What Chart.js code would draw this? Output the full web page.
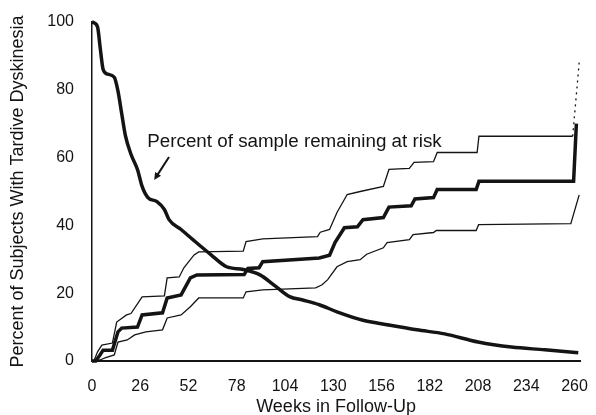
<!DOCTYPE html>
<html>
<head>
<meta charset="utf-8">
<script src="https://cdn.jsdelivr.net/npm/chart.js@4.4.0/dist/chart.umd.min.js"></script>
<style>
html, body { margin: 0; padding: 0; background: #fff; }
#wrap { width: 596px; height: 415px; }
</style>
</head>
<body>
<div id="wrap"><canvas id="tdchart" width="596" height="415"></canvas></div>
<script>
var ink = '#141414';
var fontFamily = '"Liberation Sans", Arial, Helvetica, sans-serif';

var weekTicks = [0, 26, 52, 78, 104, 130, 156, 182, 208, 234, 260];
var pctTicks = [0, 20, 40, 60, 80, 100];

// percent of sample remaining at risk
var riskWeeks = [0, 1, 3, 4.5, 6, 8.5, 12, 14, 16, 18, 21, 24.5, 27, 30, 35, 39, 41.5, 48, 55, 64,
    72.5, 81.5, 90.5, 99, 106.5, 113.5, 122.5, 132, 146, 159, 175, 190, 208, 226, 244, 262];
var riskPct = [100, 99.8, 98.5, 92, 86, 84.6, 83.7, 79.6, 73, 66.5, 61, 56.5, 51.5, 48.3, 47, 44.7, 41.7, 38.8, 35.5, 31.4,
    27.8, 27, 25.4, 22, 19, 18, 16.6, 14.5, 12, 10.7, 9.2, 8, 5.6, 4.1, 3.3, 2.4];

// cumulative tardive dyskinesia
var tdWeeks = [0, 2, 4.3, 6, 11, 14, 16, 24.5, 27, 38, 40.5, 48, 53, 56.5, 82, 84, 90, 92, 122.5, 128,
    131, 136, 143, 146, 157, 160, 172, 174, 184, 186, 207, 208.5, 259.5, 261];
var tdPct = [0, 0, 1.8, 3.2, 3.2, 8.6, 9.7, 10, 13.6, 14.2, 18.6, 19.5, 24.5, 25.4, 25.5, 27.3, 27.5, 29.3, 30.4, 31.2,
    35, 39.3, 39.6, 41.7, 42.3, 45.4, 45.8, 47.8, 48.2, 50.6, 50.6, 53, 53, 70];

// confidence bounds
var upperWeeks = [1, 3, 5.3, 11, 13.3, 18.6, 21, 27, 39, 40.5, 47, 49.5, 55, 57.5, 81.5, 83, 92, 121.5, 123, 128,
    132, 137.5, 144.5, 157, 160, 171, 173.5, 184, 186, 207.5, 208.5, 259, 262.5];
var upperPct = [0, 2.7, 4.7, 5.3, 11.5, 13.6, 14, 18.9, 19.2, 24.5, 24.8, 27.5, 31.3, 32.2, 32.4, 35.2, 36, 36.7, 38, 38.8,
    43.8, 49.1, 50, 51.5, 56.5, 56.8, 58.6, 58.8, 61.5, 61.5, 66.3, 66.3, 88];

var lowerWeeks = [2, 4.3, 7, 12, 14, 19, 23, 29, 38, 40.5, 48, 53, 57.5, 81.5, 83, 92, 120.5, 124, 127, 132,
    137.5, 144.5, 148, 157, 159, 171, 173, 184, 185.5, 207, 208.3, 258, 262.5];
var lowerPct = [0, 0.3, 0.9, 1.8, 5.6, 6.2, 7.7, 8.6, 9.2, 12.7, 13.6, 16, 18.6, 18.6, 20.4, 21, 21.6, 22.5, 24, 27.8,
    29.3, 29.9, 31.5, 33.4, 34.9, 35.8, 37.3, 37.9, 38.5, 38.5, 40.2, 40.5, 49];

var noteText = 'Percent of sample remaining at risk';
var noteAt = [29.8, 64.6];
var arrowFrom = [41.5, 60.2];
var arrowTo = [33.5, 53.4];

function toPoints(xs, ys) {
    return xs.map(function (x, i) { return { x: x, y: ys[i] }; });
}

// text label and arrow, placed in data units
var notePlugin = {
    id: 'note',
    afterDatasetsDraw: function (chart) {
        var sx = chart.scales.x, sy = chart.scales.y, ctx = chart.ctx;
        ctx.save();
        ctx.fillStyle = ink;
        ctx.strokeStyle = ink;
        ctx.font = '18.8px ' + fontFamily;
        ctx.textBaseline = 'middle';
        ctx.fillText(noteText, sx.getPixelForValue(noteAt[0]), sy.getPixelForValue(noteAt[1]));

        var x0 = sx.getPixelForValue(arrowFrom[0]), y0 = sy.getPixelForValue(arrowFrom[1]);
        var x1 = sx.getPixelForValue(arrowTo[0]), y1 = sy.getPixelForValue(arrowTo[1]);
        var ang = Math.atan2(y1 - y0, x1 - x0);
        var head = 8;
        ctx.lineWidth = 2;
        ctx.beginPath();
        ctx.moveTo(x0, y0);
        ctx.lineTo(x1 - 4 * Math.cos(ang), y1 - 4 * Math.sin(ang));
        ctx.stroke();
        ctx.beginPath();
        ctx.moveTo(x1, y1);
        ctx.lineTo(x1 - head * Math.cos(ang - 0.45), y1 - head * Math.sin(ang - 0.45));
        ctx.lineTo(x1 - head * Math.cos(ang + 0.45), y1 - head * Math.sin(ang + 0.45));
        ctx.closePath();
        ctx.fill();
        ctx.restore();
    }
};

var thin = {
    borderColor: ink,
    borderWidth: 1.3,
    pointRadius: 0,
    tension: 0,
    clip: false
};

var ctx = document.getElementById('tdchart').getContext('2d');
var chart = new Chart(ctx, {
    type: 'line',
    data: {
        datasets: [
            Object.assign({}, thin, {
                data: toPoints(upperWeeks, upperPct),
                segment: {
                    borderDash: function (c) { return c.p1DataIndex === upperWeeks.length - 1 ? [2, 4] : undefined; }
                }
            }),
            Object.assign({}, thin, { data: toPoints(lowerWeeks, lowerPct) }),
            {
                data: toPoints(tdWeeks, tdPct),
                borderColor: ink,
                borderWidth: 3.5,
                pointRadius: 0,
                tension: 0,
                clip: false
            },
            {
                data: toPoints(riskWeeks, riskPct),
                borderColor: ink,
                borderWidth: 3.5,
                pointRadius: 0,
                cubicInterpolationMode: 'monotone',
                clip: false
            }
        ]
    },
    options: {
        responsive: false,
        animation: false,
        layout: { padding: { top: 22, right: 10, bottom: 0, left: 0 } },
        plugins: {
            legend: { display: false },
            tooltip: { enabled: false }
        },
        scales: {
            x: {
                type: 'linear',
                min: 0,
                max: 263,
                afterBuildTicks: function (s) { s.ticks = weekTicks.map(function (v) { return { value: v }; }); },
                afterFit: function (s) { s.height = 54; },
                grid: { display: false },
                border: { color: ink, width: 2 },
                ticks: {
                    color: ink,
                    padding: 8,
                    maxRotation: 0,
                    autoSkip: false,
                    font: { family: fontFamily, size: 16 }
                },
                title: {
                    display: true,
                    text: 'Weeks in Follow-Up',
                    color: ink,
                    padding: { top: 0, bottom: -1.5 },
                    font: { family: fontFamily, size: 18, lineHeight: 1 }
                }
            },
            y: {
                min: 0,
                max: 100,
                afterBuildTicks: function (s) { s.ticks = pctTicks.map(function (v) { return { value: v }; }); },
                afterFit: function (s) { s.width = 92; },
                grid: { display: false },
                border: { color: ink, width: 1.5 },
                ticks: {
                    color: ink,
                    padding: 10,
                    font: { family: fontFamily, size: 16 }
                },
                title: {
                    display: true,
                    text: 'Percent of Subjects With Tardive Dyskinesia',
                    color: ink,
                    padding: { top: 9.5, bottom: 0 },
                    font: { family: fontFamily, size: 18, lineHeight: 1 }
                }
            }
        }
    },
    plugins: [notePlugin]
});
</script>
</body>
</html>
